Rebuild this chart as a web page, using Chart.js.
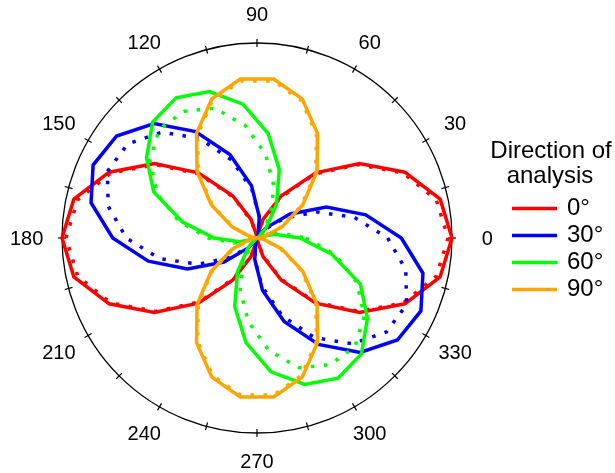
<!DOCTYPE html>
<html>
<head>
<meta charset="utf-8">
<script src="https://cdn.jsdelivr.net/npm/chart.js@4/dist/chart.umd.min.js"></script>
<style>
  html, body { margin: 0; padding: 0; background: #fff; }
  canvas { display: block; }
</style>
</head>
<body>
<canvas id="polar" width="615" height="473"></canvas>
<script>
// Sample directions (degrees, counter-clockwise from the right) of every curve vertex
const sampleAngles = [0, 12, 24, 36, 48, 60, 72, 84, 96, 108, 120, 132, 144, 156, 168,
                      180, 192, 204, 216, 228, 240, 252, 264, 276, 288, 300, 312, 324, 336, 348];

// Angle tick labels around the rim
const angleLabels = [0, 30, 60, 90, 120, 150, 180, 210, 240, 270, 300, 330];

// Legend entries (direction of analysis)
const directionNames = ['0°', '30°', '60°', '90°'];
const directionColors = ['#ff0000', '#0000ff', '#00ff00', '#ffa500'];

// Normalised radius per sample angle: solid curves
const solid0  = [1.00, .96, .83, .65, .45, .25, .10, .01, .01, .10, .25, .45, .65, .83, .96,
                 1.00, .96, .83, .65, .45, .25, .10, .01, .01, .10, .25, .45, .65, .83, .96];
const solid30 = [.74, .57, .39, .21, .07, .01, .02, .11, .27, .45, .63, .79, .89, .92, .87,
                 .74, .57, .39, .21, .07, .01, .02, .11, .27, .45, .63, .79, .89, .92, .87];
const solid60 = [.22, .09, .01, .01, .07, .20, .37, .54, .69, .79, .83, .80, .70, .58, .39,
                 .22, .09, .01, .01, .07, .20, .37, .54, .69, .79, .83, .80, .70, .58, .39];
const solid90 = [.00, .04, .14, .29, .46, .62, .75, .82, .82, .75, .62, .46, .29, .14, .04,
                 .00, .04, .14, .29, .46, .62, .75, .82, .82, .75, .62, .46, .29, .14, .04];

// Normalised radius per sample angle: dotted curves
const dotted0  = [.98, .94, .82, .64, .44, .24, .09, .01, .01, .09, .24, .44, .64, .82, .94,
                  .98, .94, .82, .64, .44, .24, .09, .01, .01, .09, .24, .44, .64, .82, .94];
const dotted30 = [.67, .51, .33, .17, .06, .00, .02, .11, .25, .42, .59, .73, .82, .84, .78,
                  .67, .51, .33, .17, .06, .00, .02, .11, .25, .42, .59, .73, .82, .84, .78];
const dotted60 = [.25, .12, .03, .00, .04, .14, .28, .43, .58, .70, .75, .75, .68, .56, .41,
                  .25, .12, .03, .00, .04, .14, .28, .43, .58, .70, .75, .75, .68, .56, .41];
const dotted90 = [.00, .03, .13, .28, .45, .61, .74, .81, .81, .74, .61, .45, .28, .13, .03,
                  .00, .03, .13, .28, .45, .61, .74, .81, .81, .74, .61, .45, .28, .13, .03];

// The radial scale runs clockwise from its start angle, so the circle is split into
// 3-degree slots numbered clockwise from the right; slot i sits at (360 - 3i) degrees.
const SLOT = 3;
const SLOTS = 360 / SLOT;
const slotOf = deg => ((360 - deg) % 360) / SLOT;
const slotLabels = Array.from({ length: SLOTS }, (_, i) => String((360 - SLOT * i) % 360));

function toSlots(values) {
  const out = new Array(SLOTS).fill(null);
  sampleAngles.forEach((a, k) => { out[slotOf(a)] = values[k]; });
  return out;
}

const solidSeries = [solid0, solid30, solid60, solid90];
const dottedSeries = [dotted0, dotted30, dotted60, dotted90];

const datasets = [];
directionNames.forEach((name, j) => {
  const common = {
    borderColor: directionColors[j],
    borderWidth: 3.5,
    pointRadius: 0,
    pointHoverRadius: 0,
    fill: false,
    spanGaps: true,
    tension: 0
  };
  datasets.push(Object.assign({ label: name, data: toSlots(solidSeries[j]) }, common));
  datasets.push(Object.assign({ label: name + ' (dotted)', data: toSlots(dottedSeries[j]),
                                borderDash: [3.5, 9.5] }, common));
});
// later entries are painted on top
datasets.forEach((d, k) => { d.order = datasets.length - k; });

const FONT = '"Liberation Sans", Arial, Helvetica, sans-serif';

// Rim tick marks every 15 degrees and the angle labels every 30 degrees
const polarFrame = {
  id: 'polarFrame',
  beforeDatasetsDraw(chart) {
    const s = chart.scales.r;
    const ctx = chart.ctx;
    const R = s.drawingArea;
    ctx.save();
    ctx.strokeStyle = '#000';
    ctx.lineWidth = 1.2;
    for (let a = 0; a < 360; a += 15) {
      const idx = slotOf(a);
      const p1 = s.getPointPosition(idx, R - 4);
      const p2 = s.getPointPosition(idx, R + 4);
      ctx.beginPath();
      ctx.moveTo(p1.x, p1.y);
      ctx.lineTo(p2.x, p2.y);
      ctx.stroke();
    }
    ctx.font = '20px ' + FONT;
    ctx.fillStyle = '#000';
    ctx.textAlign = 'center';
    ctx.textBaseline = 'middle';
    angleLabels.forEach(a => {
      const c = Math.cos(a * Math.PI / 180);
      const p = s.getPointPosition(slotOf(a), R * 1.148 + 6.5 * c * c);
      ctx.fillText(String(a), p.x, p.y + 1);
    });
    ctx.restore();
  }
};

// Legend block on the right: two-line title and a line sample per direction
const directionLegend = {
  id: 'directionLegend',
  afterDraw(chart) {
    const ctx = chart.ctx;
    ctx.save();
    ctx.font = '24px ' + FONT;
    ctx.fillStyle = '#000';
    ctx.textAlign = 'center';
    ctx.textBaseline = 'alphabetic';
    ctx.fillText('Direction of', 551, 158);
    ctx.fillText('analysis', 550, 183);
    ctx.textAlign = 'left';
    directionNames.forEach((name, j) => {
      const base = 215 + 27 * j;
      ctx.strokeStyle = directionColors[j];
      ctx.lineWidth = 3.5;
      ctx.beginPath();
      ctx.moveTo(512, base - 6.5);
      ctx.lineTo(557, base - 6.5);
      ctx.stroke();
      ctx.fillText(name, 567, base);
    });
    ctx.restore();
  }
};

new Chart(document.getElementById('polar'), {
  type: 'radar',
  data: { labels: slotLabels, datasets },
  options: {
    responsive: false,
    animation: false,
    devicePixelRatio: 1,
    events: [],
    layout: { padding: { left: 62, top: 43, right: 163, bottom: 40 } },
    plugins: {
      legend: { display: false },
      tooltip: { enabled: false }
    },
    scales: {
      r: {
        min: 0,
        max: 1,
        startAngle: 90,
        ticks: { display: false, stepSize: 1 },
        grid: { circular: true, color: '#000', lineWidth: 1.3 },
        angleLines: { display: false },
        pointLabels: { display: false }
      }
    }
  },
  plugins: [polarFrame, directionLegend]
});
</script>
</body>
</html>
